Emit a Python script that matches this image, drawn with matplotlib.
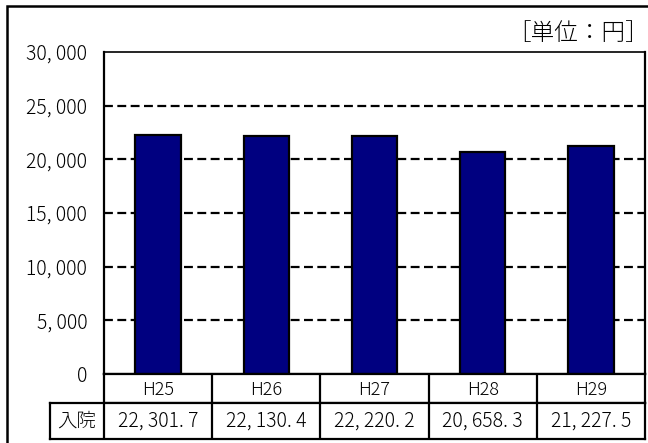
import matplotlib.pyplot as plt
from matplotlib.patches import Rectangle

plt.rcParams['font.family'] = ['Noto Sans CJK JP', 'DejaVu Sans']
plt.rcParams['font.weight'] = 'light'

# 年度別 入院 1件当たり費用（円）
years = ['H25', 'H26', 'H27', 'H28', 'H29']
nyuin = [22301.7, 22130.4, 22220.2, 20658.3, 21227.5]
row_label = '入院'
unit_label = '［単位：円］'
y_ticks = [0, 5000, 10000, 15000, 20000, 25000, 30000]

W, H = 648, 443
fig = plt.figure(figsize=(W / 100, H / 100), dpi=100)


def px_axes(x0, y0, x1, y1):
    # 画素座標(左上原点)で軸を配置
    return fig.add_axes([x0 / W, 1 - y1 / H, (x1 - x0) / W, (y1 - y0) / H])


def jp_num(s):
    return s.replace(',', ', ').replace('.', '. ')


# 外枠
fig.patches.append(Rectangle((7 / W, -0.05), 1.0, 1 - 6 / H + 0.05,
                             transform=fig.transFigure, fill=False,
                             edgecolor='black', linewidth=1.8))

# 棒グラフ本体
ax = px_axes(104, 52, 645, 374)
ax.bar(range(len(years)), nyuin, width=0.42, color='#000080',
       edgecolor='black', linewidth=1.6, zorder=3)
ax.set_xlim(-0.5, len(years) - 0.5)
ax.set_ylim(0, 30000)
ax.set_yticks(y_ticks)
ax.set_yticklabels([jp_num(f'{t:,}') for t in y_ticks], fontsize=14)
ax.tick_params(axis='y', length=0, pad=12)
ax.set_xticks([])
for t in y_ticks[1:-1]:
    ax.axhline(t, color='black', linewidth=1.6, linestyle=(0, (4, 2)), zorder=1)
for s in ax.spines.values():
    s.set_linewidth(1.6)
ax.spines['top'].set_linewidth(1.2)

# 年度の行
hdr = px_axes(104, 374, 645, 403)
hdr.set_xlim(-0.5, len(years) - 0.5)
hdr.set_ylim(0, 1)
for i, y in enumerate(years):
    hdr.text(i, 0.45, y, ha='center', va='center', fontsize=13)
    if i > 0:
        hdr.axvline(i - 0.5, color='black', linewidth=1.6)

# 入院の行
dat = px_axes(50, 403, 645, 439)
dat.set_xlim(-1.0, len(years) - 0.5)
dat.set_ylim(0, 1)
dat.text(-0.75, 0.5, row_label, ha='center', va='center', fontsize=14)
dat.axvline(-0.5, color='black', linewidth=1.6)
for i, v in enumerate(nyuin):
    dat.text(i, 0.5, jp_num(f'{v:,.1f}'), ha='center', va='center', fontsize=14)
    if i > 0:
        dat.axvline(i - 0.5, color='black', linewidth=1.6)

for a in (hdr, dat):
    a.set_xticks([])
    a.set_yticks([])
    for s in a.spines.values():
        s.set_linewidth(1.6)

fig.text(649 / W, 1 - 33 / H, unit_label, ha='right', va='center', fontsize=17)

fig.savefig('out.png', dpi=100)
